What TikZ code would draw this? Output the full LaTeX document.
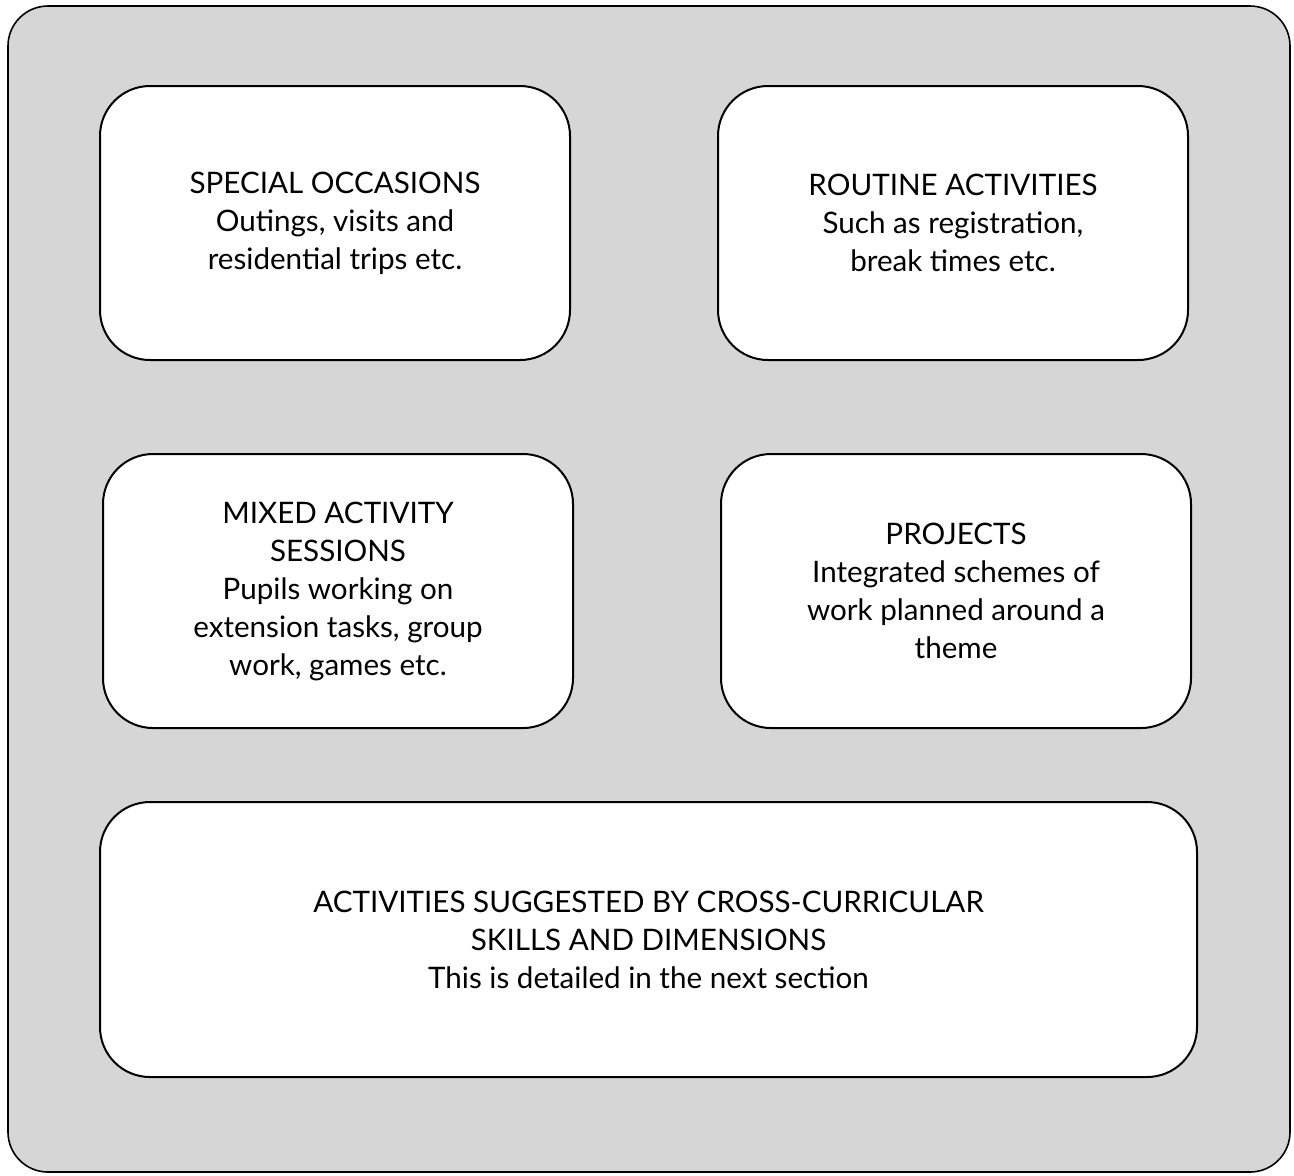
\documentclass[tikz,border=0pt]{standalone}
\usepackage{fontspec}
\setmainfont{Lato}
\definecolor{panelgrey}{RGB}{214,214,214}
\begin{document}
\begin{tikzpicture}[x=0.5pt,y=-0.5pt,
    activity/.style={draw, fill=white, line width=1pt, rounded corners=25pt,
      minimum width=235pt, minimum height=137pt, align=center,
      font=\fontsize{14.8}{19}\selectfont}]
            \useasboundingbox (0,0) rectangle (1294,1175);
            \draw [fill=panelgrey, line width=0.8pt, rounded corners=20pt] (8,6) rectangle (1290,1172);
            % top row
            \node [activity] (special) at (335,223) {SPECIAL OCCASIONS\\Outings, visits and\\residential trips etc.};
            \node [activity] (routine) at (953,223) {ROUTINE ACTIVITIES\\Such as registration,\\break times etc.};
            % middle row
            \node [activity] (mixed) at (338,591) {MIXED ACTIVITY\\SESSIONS\\Pupils working on\\extension tasks, group\\work, games etc.};
            \node [activity] (projects) at (956,591) {PROJECTS\\Integrated schemes of\\work planned around a\\theme};
            % bottom
            \node [activity, minimum width=548.5pt, minimum height=137.5pt] (crosscurr) at (648.5,939.5) {ACTIVITIES SUGGESTED BY CROSS-CURRICULAR\\SKILLS AND DIMENSIONS\\This is detailed in the next section};
        \end{tikzpicture}
\end{document}
